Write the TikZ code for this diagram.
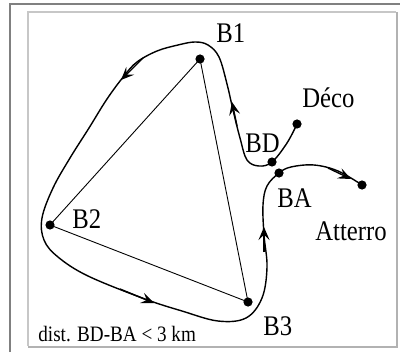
\documentclass[tikz,border=0pt]{standalone}
\usepackage{fontspec}
\setmainfont{Liberation Serif}
\newfontfamily\labfont[FakeStretch=0.87]{Liberation Serif}
\usetikzlibrary{arrows.meta}
\begin{document}
\begin{tikzpicture}[x=0.5pt,y=-0.5pt,
  dot/.style={circle,fill=black,inner sep=0pt,minimum size=4.6pt},
  lbl/.style={font=\labfont\fontsize{14.2}{15}\selectfont,inner sep=0pt,anchor=base west},
  small/.style={font=\labfont\fontsize{11}{12}\selectfont,inner sep=0pt,anchor=base west},
  leg/.style={line width=0.45pt},
  track/.style={line width=0.7pt,line join=round,line cap=round},
  tip/.style={line width=0.7pt,-{Stealth[length=6.5pt,width=5.5pt,inset=2.6pt]}}]
\useasboundingbox (0,0) rectangle (400,352);
% frames
\draw[black!50,line width=0.6pt] (10,352) -- (10,4) -- (400,4);
\draw[black!22,line width=0.6pt] (28,346) -- (28,12) -- (396,12);
\draw[black!30,line width=1pt] (28,346.5) -- (396.5,346.5) -- (396.5,12);
% turnpoints
\node[dot] (B1) at (200,59) {};
\node[dot] (B2) at (50,225) {};
\node[dot] (B3) at (248,302) {};
\node[dot] (BD) at (272,162) {};
\node[dot] (BA) at (279,173) {};
\node[dot] (Deco) at (297,124) {};
\node[dot] (Att) at (362,185) {};
% triangle
\draw[leg] (B1.center) -- (B2.center) -- (B3.center) -- cycle;
% track waypoints
\coordinate (c1) at (287,143);
\coordinate (c2) at (259,166);
\coordinate (c3) at (247,160);
\coordinate (c4) at (240,138);
\coordinate (c5) at (233,110);
\coordinate (c6) at (227,84);
\coordinate (c7) at (219,57);
\coordinate (c8) at (208,45);
\coordinate (c9) at (195,42);
\coordinate (c10) at (178,45);
\coordinate (c11) at (157,51);
\coordinate (c12) at (137,62);
\coordinate (c13) at (124,76);
\coordinate (c14) at (107,99);
\coordinate (c15) at (89,128);
\coordinate (c16) at (70,158);
\coordinate (c17) at (53,188);
\coordinate (c18) at (42,218);
\coordinate (c19) at (44,240);
\coordinate (c20) at (58,257);
\coordinate (c21) at (88,276);
\coordinate (c22) at (145,299);
\coordinate (c23) at (182,311);
\coordinate (c24) at (218,321);
\coordinate (c25) at (246,318);
\coordinate (c26) at (262,298);
\coordinate (c27) at (267,267);
\coordinate (c28) at (264,235);
\coordinate (c29) at (263,205);
\coordinate (c30) at (267,186);
\coordinate (c31) at (291,167);
\coordinate (c32) at (314,165);
\coordinate (c33) at (338,171);
\draw[track] plot[smooth,tension=0.6] coordinates {
  (Deco.center) (c1) (BD.center) (c2) (c3) (c4) (c5) (c6) (c7) (c8) (c9)
  (c10) (c11) (c12) (c13) (c14) (c15) (c16) (c17) (c18) (c19) (c20) (c21)
  (c22) (c23) (c24) (c25) (c26) (c27) (c28) (c29) (c30) (BA.center)
  (c31) (c32) (c33) (Att.center)};
% direction arrows
\coordinate (a1) at (237,126);
\coordinate (a1e) at (232,102);
\coordinate (a2) at (143,58);
\coordinate (a2e) at (121,80);
\coordinate (a3) at (120,289);
\coordinate (a3e) at (154,303);
\coordinate (a4) at (264,252);
\coordinate (a4e) at (264,227);
\coordinate (a5) at (328,168);
\coordinate (a5e) at (351,179);
\draw[tip] (a1) -- (a1e);
\draw[tip] (a2) -- (a2e);
\draw[tip] (a3) -- (a3e);
\draw[tip] (a4) -- (a4e);
\draw[tip] (a5) -- (a5e);
% labels
\node[lbl] (tB1) at (216,43) {B1};
\node[lbl] (tB2) at (72,228) {B2};
\node[lbl] (tB3) at (263,335) {B3};
\node[lbl] (tBD) at (245,152) {BD};
\node[lbl] (tBA) at (277,207) {BA};
\node[lbl] (tDeco) at (302,108) {Déco};
\node[lbl] (tAtt) at (315,240) {Atterro};
\node[small] (dist) at (38,341) {dist. BD-BA < 3 km};
\end{tikzpicture}
\end{document}
